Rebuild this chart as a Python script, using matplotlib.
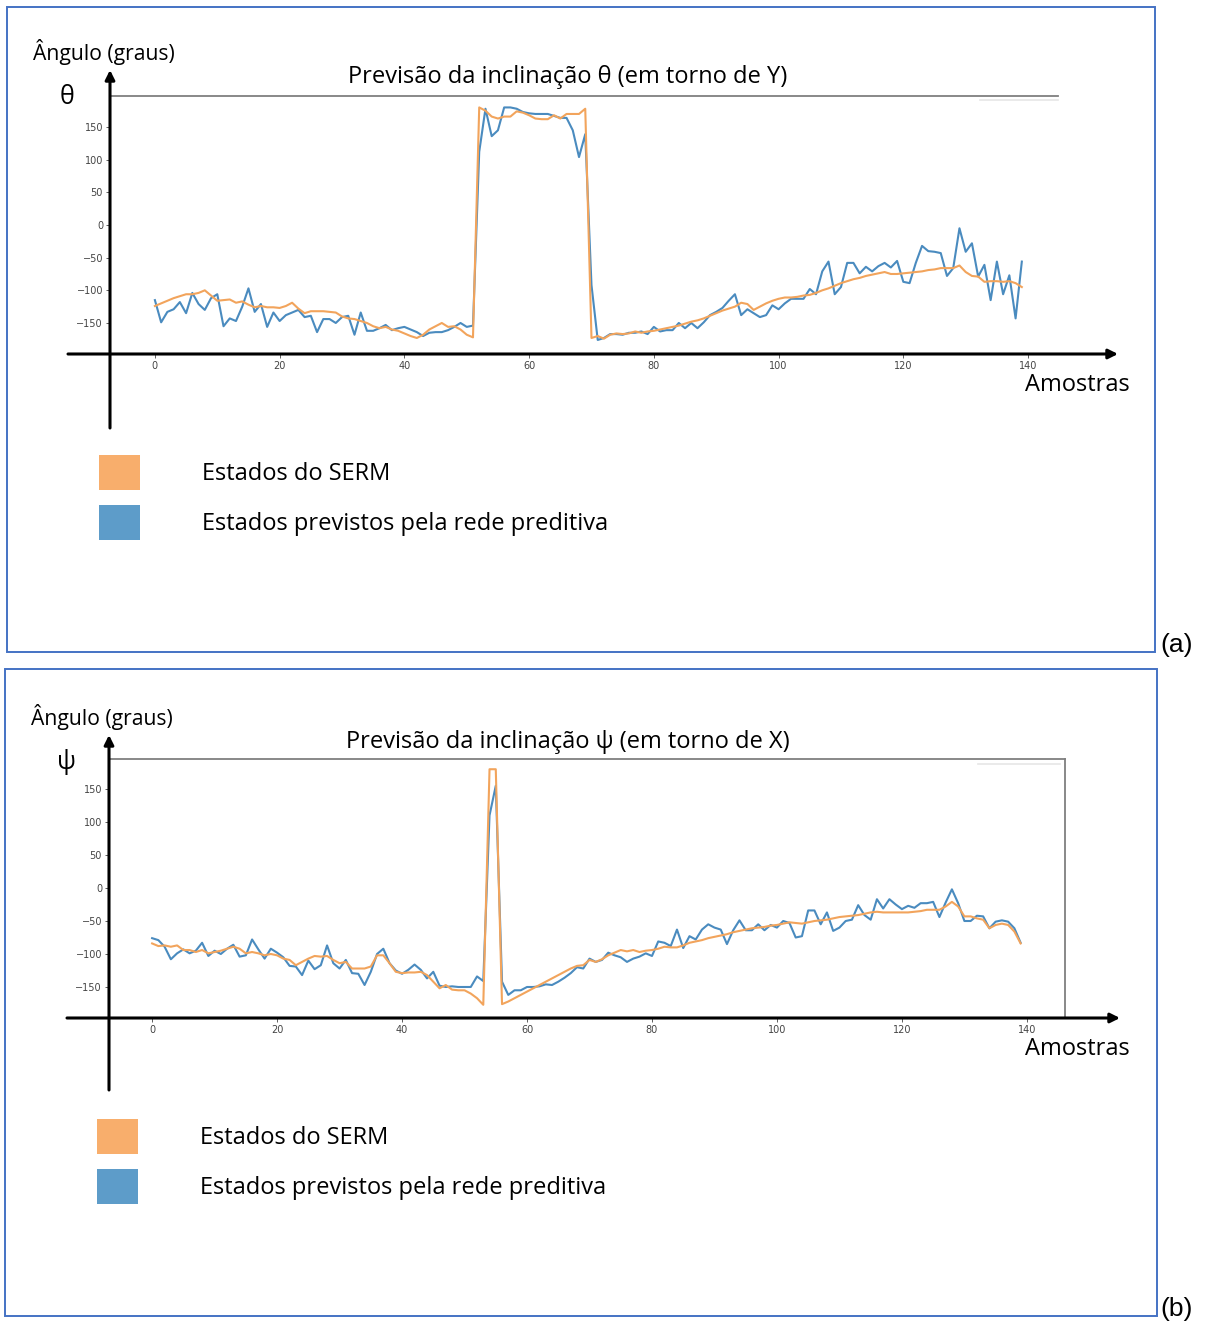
import matplotlib
matplotlib.use("Agg")
import matplotlib.pyplot as plt
from matplotlib.patches import Rectangle

# amostras 0..139
amostras = list(range(140))

# (a) inclinacao theta (em torno de Y)
theta_serm = [
    -124, -120, -116, -112, -109, -106, -106, -104, -100, -108,
    -116, -115, -114, -119, -117, -122, -126, -124, -126, -126,
    -127, -124, -119, -128, -135, -132, -132, -132, -133, -134,
    -140, -143, -144, -147, -150, -155, -158, -156, -160, -162,
    -166, -170, -173, -168, -160, -155, -150, -156, -155, -160,
    -168, -172, 180, 175, 166, 163, 166, 166, 174, 172,
    168, 163, 162, 162, 168, 163, 170, 170, 170, 178,
    -173, -170, -174, -168, -166, -167, -166, -163, -165, -163,
    -162, -160, -158, -156, -154, -151, -148, -146, -143, -139,
    -135, -131, -128, -125, -119, -121, -130, -125, -120, -116,
    -113, -111, -111, -110, -108, -107, -104, -100, -97, -93,
    -89, -86, -83, -81, -78, -76, -74, -72, -75, -75,
    -74, -73, -72, -71, -69, -68, -66, -66, -66, -62,
    -72, -78, -79, -87, -86, -86, -87, -86, -89, -95,
]
theta_rede = [
    -115, -149, -133, -129, -118, -135, -104, -121, -130, -112,
    -106, -155, -143, -147, -125, -97, -133, -121, -156, -134,
    -147, -138, -134, -130, -141, -139, -164, -144, -144, -150,
    -141, -139, -168, -134, -162, -162, -158, -153, -161, -158,
    -156, -160, -164, -170, -165, -164, -164, -161, -156, -150,
    -156, -154, 112, 178, 136, 145, 180, 180, 178, 173,
    171, 170, 170, 170, 167, 164, 164, 145, 104, 139,
    -92, -176, -173, -167, -167, -168, -165, -165, -163, -167,
    -156, -163, -161, -161, -150, -158, -150, -158, -149, -138,
    -133, -127, -116, -106, -138, -129, -135, -141, -138, -123,
    -129, -120, -113, -113, -113, -98, -106, -71, -56, -106,
    -95, -58, -58, -74, -64, -71, -63, -58, -65, -55,
    -87, -89, -58, -32, -40, -41, -43, -78, -66, -5,
    -41, -28, -79, -61, -115, -56, -106, -77, -143, -56,
]

# (b) inclinacao psi (em torno de X)
psi_serm = [
    -84, -88, -87, -89, -87, -94, -94, -97, -94, -99,
    -97, -95, -92, -89, -92, -99, -97, -99, -102, -100,
    -102, -107, -109, -117, -112, -107, -103, -104, -103, -109,
    -114, -112, -122, -122, -122, -119, -102, -102, -114, -127,
    -129, -128, -128, -127, -132, -142, -152, -147, -154, -155,
    -155, -160, -167, -177, 180, 180, -176, -172, -167, -162,
    -157, -152, -147, -142, -137, -132, -127, -122, -118, -117,
    -109, -112, -108, -102, -98, -94, -96, -94, -97, -95,
    -94, -92, -89, -90, -90, -87, -83, -81, -79, -76,
    -74, -72, -70, -67, -65, -63, -61, -60, -59, -57,
    -56, -54, -52, -53, -54, -52, -50, -49, -48, -46,
    -44, -43, -42, -41, -39, -37, -36, -37, -37, -37,
    -37, -37, -36, -35, -33, -33, -33, -28, -21, -28,
    -43, -43, -46, -48, -61, -56, -54, -56, -66, -84,
]
psi_rede = [
    -76, -79, -89, -108, -99, -93, -99, -95, -83, -103,
    -95, -100, -92, -86, -104, -102, -78, -93, -107, -92,
    -98, -105, -118, -119, -132, -110, -123, -117, -87, -114,
    -122, -109, -129, -130, -147, -127, -100, -92, -114, -125,
    -130, -124, -116, -124, -137, -127, -148, -150, -149, -150,
    -150, -150, -134, -141, 110, 155, -142, -162, -155, -155,
    -150, -150, -149, -146, -147, -142, -136, -129, -120, -122,
    -107, -112, -109, -98, -102, -105, -112, -107, -104, -99,
    -103, -81, -83, -88, -63, -91, -73, -78, -63, -55,
    -60, -63, -85, -64, -49, -64, -64, -55, -64, -56,
    -60, -50, -53, -75, -73, -34, -34, -55, -37, -65,
    -60, -50, -48, -26, -41, -48, -17, -31, -17, -25,
    -32, -27, -30, -23, -23, -21, -44, -22, -2, -23,
    -50, -50, -42, -43, -61, -51, -49, -51, -61, -83,
]

x_ticks = [0, 20, 40, 60, 80, 100, 120, 140]
y_ticks = [-150, -100, -50, 0, 50, 100, 150]
legenda = ["Estados do SERM", "Estados previstos pela rede preditiva"]

W, H = 1207, 1323
BLUE = "#4a8bbf"
ORANGE = "#f2a45c"
TXT = ["Open Sans", "DejaVu Sans"]

fig = plt.figure(figsize=(W / 100, H / 100), dpi=100)


def px_axes(l, t, r, b):
    return fig.add_axes([l / W, 1 - b / H, (r - l) / W, (b - t) / H])


def draw_panel(box, xlim, ylim, serm, rede, right_spine):
    ax = px_axes(*box)
    ax.plot(amostras, rede, color=BLUE, lw=1.5)
    ax.plot(amostras, serm, color=ORANGE, lw=1.5)
    ax.set_xlim(*xlim)
    ax.set_ylim(*ylim)
    ax.set_xticks(x_ticks)
    ax.set_yticks(y_ticks)
    ax.tick_params(labelsize=7, colors="#444444", length=3, width=0.6, pad=2)
    for s in ["left", "bottom"]:
        ax.spines[s].set_visible(False)
    ax.spines["top"].set_color("#7f7f7f")
    ax.spines["top"].set_linewidth(1.3)
    ax.spines["right"].set_visible(right_spine)
    ax.spines["right"].set_color("#7f7f7f")
    ax.spines["right"].set_linewidth(1.3)
    return ax


draw_panel((110, 96, 1058, 354), (-7.2, 144.8), (-197.5, 197.5),
           theta_serm, theta_rede, False)
draw_panel((109, 759, 1065, 1018), (-6.9, 146.1), (-197, 195.5),
           psi_serm, psi_rede, True)

# overlay in pixel coordinates for arrows, boxes and labels
ov = fig.add_axes([0, 0, 1, 1])
ov.set_xlim(0, W)
ov.set_ylim(H, 0)
ov.axis("off")

arrow = dict(arrowstyle="-|>", lw=2.2, color="black", mutation_scale=14,
             shrinkA=0, shrinkB=0)


def decorate(top, ax_x, ax_y, x_end, y_top, y_bot, sym, titulo, lab):
    # blue frame of the panel
    ov.add_patch(Rectangle((top[0], top[1]), top[2] - top[0], top[3] - top[1],
                           fill=False, ec="#4472c4", lw=1.4))
    ov.annotate("", xy=(x_end, ax_y), xytext=(ax_x - 42, ax_y), arrowprops=arrow)
    ov.annotate("", xy=(ax_x, y_top), xytext=(ax_x, y_bot), arrowprops=arrow)
    ov.text(top[0] + 26, y_top - 18, "Ângulo (graus)", fontsize=15.2,
            family=TXT, va="center", ha="left")
    ov.text(ax_x - 43, y_top + 27, sym, fontsize=18, family=TXT,
            va="center", ha="center")
    ov.text(568, y_top + 7, titulo, fontsize=17, family=TXT,
            va="center", ha="center")
    ov.text(1130, ax_y + 31, "Amostras", fontsize=17, family=TXT,
            va="center", ha="right")
    # legend
    ly = ax_y + 101
    for i, (c, t) in enumerate(zip(["#f8ae6c", "#5d9cc9"], legenda)):
        yy = ly + i * 50
        ov.add_patch(Rectangle((top[0] + 92, yy), 41, 35, fc=c, ec="none"))
        ov.text(top[0] + 195, yy + 19, t, fontsize=17, family=TXT,
                va="center", ha="left")
    ov.text(1160, top[3] - 7, lab, fontsize=19, family=["Liberation Sans"],
            va="center", ha="left")


decorate((7, 7, 1155, 652), 110, 354, 1118, 70, 428,
         "θ", "Previsão da inclinação θ (em torno de Y)", "(a)")
decorate((5, 669, 1157, 1316), 109, 1018, 1120, 735, 1090,
         "ψ", "Previsão da inclinação ψ (em torno de X)", "(b)")

# faint remnant lines under the top frame at the right
ov.plot([980, 1058], [100, 100], color="#e6e6e6", lw=1.2)
ov.plot([978, 1060], [764, 764], color="#e6e6e6", lw=1.2)

fig.savefig("out.png", dpi=100)
